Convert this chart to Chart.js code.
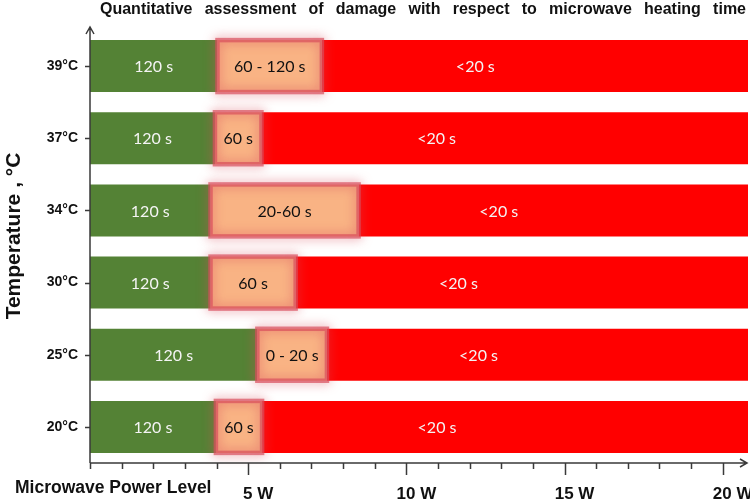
<!DOCTYPE html>
<html>
<head>
<meta charset="utf-8">
<script src="https://cdn.jsdelivr.net/npm/chart.js@4.4.0/dist/chart.umd.min.js"></script>
<style>
  body { margin: 0; background: #fff; }
  #wrap { width: 750px; height: 502px; position: relative; }
</style>
</head>
<body>
<div id="wrap"><canvas id="chart"></canvas></div>
<script>
// ===== Data =====
const temperatures = ["39°C", "37°C", "34°C", "30°C", "25°C", "20°C"];
const safeEnd = [4.03, 3.95, 3.81, 3.81, 5.29, 3.98];      // end of green zone, W
const damageStart = [7.33, 5.42, 8.49, 6.5, 7.49, 5.44];   // start of red zone, W
const powerMax = 20.8;
const powerTicks = [5, 10, 15, 20];
const safeText = ["120 s", "120 s", "120 s", "120 s", "120 s", "120 s"];
const midText = ["60 - 120 s", "60 s", "20-60 s", "60 s", "0 - 20 s", "60 s"];
const damageText = ["<20 s", "<20 s", "<20 s", "<20 s", "<20 s", "<20 s"];

const titleText = "Quantitative assessment of damage with respect to microwave heating time";
const AXIS = "#3a3a3a";
const SANS = "'Liberation Sans', Arial, sans-serif";

// ===== Glow round the orange boxes =====
const glowPlugin = {
  id: "glow",
  afterDatasetDraw(chart, args) {
    if (args.index !== 1) return;
    const ctx = chart.ctx;
    ctx.save();
    ctx.strokeStyle = "rgba(216,78,92,0.7)";
    ctx.lineWidth = 4.5;
    ctx.shadowColor = "rgba(216,78,92,0.95)";
    ctx.shadowBlur = 11;
    args.meta.data.forEach(bar => {
      const { x, y, base, height } = bar.getProps(["x", "y", "base", "height"], true);
      ctx.strokeRect(base, y - height / 2, x - base, height);
    });
    ctx.restore();
  }
};

// ===== Text inside the bars =====
const barTextPlugin = {
  id: "barText",
  afterDatasetsDraw(chart) {
    const ctx = chart.ctx;
    ctx.save();
    ctx.font = "16px Lato, 'Open Sans', sans-serif";
    ctx.textAlign = "center";
    ctx.textBaseline = "middle";
    const texts = [safeText, midText, damageText];
    const colors = ["#f4f4f4", "#111", "#f4f4f4"];
    const spot = [0.5, 0.5, 0.36];
    texts.forEach((list, d) => {
      chart.getDatasetMeta(d).data.forEach((bar, i) => {
        const { x, y, base } = bar.getProps(["x", "y", "base"], true);
        ctx.fillStyle = colors[d];
        ctx.fillText(list[i], base + (x - base) * spot[d], y + 1);
      });
    });
    ctx.restore();
  }
};

// ===== Axes with arrows, tick marks, titles =====
const axesPlugin = {
  id: "axes",
  afterDraw(chart) {
    const { ctx, chartArea: a, scales: { x, y } } = chart;
    ctx.save();
    ctx.strokeStyle = AXIS;
    ctx.lineWidth = 1.5;
    ctx.beginPath();
    ctx.moveTo(a.left, a.bottom);
    ctx.lineTo(a.left, a.top - 3);
    ctx.moveTo(a.left - 4, a.top + 4);
    ctx.lineTo(a.left, a.top - 3);
    ctx.lineTo(a.left + 4, a.top + 4);
    ctx.moveTo(a.left, a.bottom);
    ctx.lineTo(a.right - 1, a.bottom);
    ctx.moveTo(a.right - 8, a.bottom - 4);
    ctx.lineTo(a.right - 1, a.bottom);
    ctx.lineTo(a.right - 8, a.bottom + 4);
    ctx.stroke();

    ctx.beginPath();
    for (let v = 0; v <= 20; v++) {
      const px = Math.round(x.getPixelForValue(v)) + 0.5;
      ctx.moveTo(px, a.bottom);
      ctx.lineTo(px, a.bottom + (powerTicks.includes(v) ? 12 : 6));
    }
    temperatures.forEach((t, i) => {
      const py = Math.round(y.getPixelForValue(i)) + 0.5;
      ctx.moveTo(a.left - 5, py);
      ctx.lineTo(a.left, py);
    });
    ctx.stroke();

    // chart title, words spread over the width
    ctx.fillStyle = "#111";
    ctx.font = "bold 16px " + SANS;
    ctx.textBaseline = "alphabetic";
    ctx.textAlign = "left";
    const words = titleText.split(" ");
    const wordsW = words.reduce((s, w) => s + ctx.measureText(w).width, 0);
    const gap = (646 - wordsW) / (words.length - 1);
    let tx = 100;
    words.forEach(w => {
      ctx.fillText(w, tx, 14);
      tx += ctx.measureText(w).width + gap;
    });

    // x axis title
    ctx.font = "bold 17.5px " + SANS;
    ctx.fillText("Microwave Power Level", 15, 493);

    // y axis title
    ctx.translate(14, 236);
    ctx.rotate(-Math.PI / 2);
    ctx.textAlign = "center";
    ctx.textBaseline = "middle";
    ctx.font = "bold 21px " + SANS;
    ctx.fillText("Temperature , °C", 0, 0);
    ctx.restore();
  }
};

// ===== Chart =====
const ctx = document.getElementById("chart").getContext("2d");
new Chart(ctx, {
  type: "bar",
  data: {
    labels: temperatures,
    datasets: [
      {
        label: "safe",
        data: safeEnd.map(v => [0, v]),
        backgroundColor: "#548235",
        order: 2
      },
      {
        label: "partial",
        data: safeEnd.map((v, i) => [v, damageStart[i]]),
        backgroundColor: "#f9b384",
        order: 0
      },
      {
        label: "damage",
        data: damageStart.map(v => [v, powerMax]),
        backgroundColor: "#ff0000",
        order: 1
      }
    ]
  },
  options: {
    indexAxis: "y",
    responsive: true,
    maintainAspectRatio: false,
    animation: false,
    layout: { padding: { top: 30, right: 2, left: 0, bottom: 0 } },
    datasets: { bar: { grouped: false, barPercentage: 0.72, categoryPercentage: 1, borderWidth: 0 } },
    plugins: { legend: { display: false }, tooltip: { enabled: false }, title: { display: false } },
    scales: {
      x: {
        type: "linear",
        min: 0,
        max: powerMax,
        grid: { display: false, drawTicks: false },
        border: { display: false },
        afterFit: s => { s.height = 39; s.paddingLeft = 0; s.paddingRight = 0; },
        ticks: {
          stepSize: 1,
          includeBounds: false,
          autoSkip: false,
          maxRotation: 0,
          padding: 21,
          labelOffset: 10,
          color: "#111",
          font: { family: SANS, size: 17, weight: "bold" },
          callback: v => powerTicks.includes(v) ? v + " W" : ""
        }
      },
      y: {
        grid: { display: false, drawTicks: false },
        border: { display: false },
        afterFit: s => { s.width = 90; s.paddingTop = 0; s.paddingBottom = 0; },
        ticks: {
          padding: 12,
          color: "#111",
          font: { family: SANS, size: 14, weight: "bold" }
        }
      }
    }
  },
  plugins: [glowPlugin, barTextPlugin, axesPlugin]
});
</script>
</body>
</html>
